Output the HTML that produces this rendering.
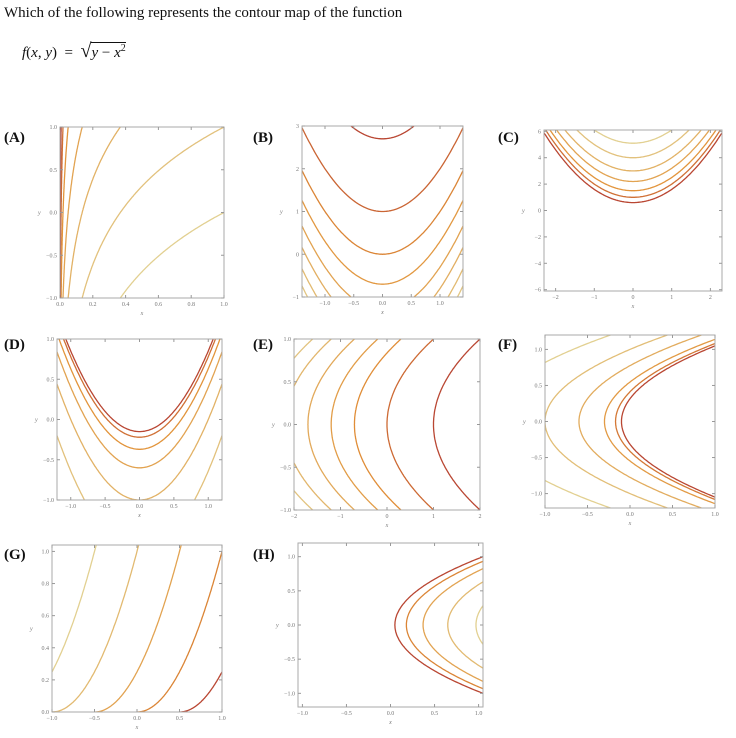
<!DOCTYPE html>
<html><head><meta charset="utf-8">
<style>
body{margin:0;background:#fff;width:736px;height:738px;overflow:hidden;font-family:"Liberation Serif",serif;}
#title{position:absolute;left:4px;top:5px;font-size:15px;color:#111;}
#formula{position:absolute;left:22px;top:40px;font-size:15px;color:#111;}
</style></head><body>
<div id="title">Which of the following represents the contour map of the function</div>
<div id="formula"><i>f</i>(<i>x</i>, <i>y</i>) &nbsp;= &nbsp;<span style="font-size:20px">√</span><span style="border-top:1px solid #111;padding-top:2px"><i>y</i> − <i>x</i><sup style="font-size:10px">2</sup></span></div>
<svg id="chart" width="736" height="738" style="position:absolute;left:0;top:0"></svg>
<script>
const levelsA=[0,1,2,3,4,5,6];
const levelsB=[2.7,1,0,-0.7,-1.3,-1.8,-2.3,-2.7,-3.1];
const levelsC=[0.6,1.0,1.5,2.2,3.0,4.0,5.1];
const levelsD=[-0.15,-0.22,-0.37,-0.6,-1.0,-1.64,-2.6];
const levelsE=[1.0,0.0,-0.7,-1.2,-1.7,-2.2,-2.6,-3.0];
const levelsF=[-0.1,-0.17,-0.3,-0.6,-1.0,-1.67];
const levelsG=[0.5,0,-0.5,-1,-1.5];
const levelsH=[0.05,0.18,0.37,0.65,0.97];
const ticksA=[[0,0.2,0.4,0.6,0.8,1.0],[-1,-0.5,0,0.5,1]];
const ticksB=[[-1,-0.5,0,0.5,1],[-1,0,1,2,3]];
const ticksC=[[-2,-1,0,1,2],[-6,-4,-2,0,2,4,6]];
const ticksD=[[-1,-0.5,0,0.5,1],[-1,-0.5,0,0.5,1]];
const ticksE=[[-2,-1,0,1,2],[-1,-0.5,0,0.5,1]];
const ticksF=[[-1,-0.5,0,0.5,1],[-1,-0.5,0,0.5,1]];
const ticksG=[[-1,-0.5,0,0.5,1],[0,0.2,0.4,0.6,0.8,1.0]];
const ticksH=[[-1,-0.5,0,0.5,1],[-1,-0.5,0,0.5,1]];

const panels=[
{id:'A',lx:4,ly:130,box:[60,127,224,298],xr:[0,1],yr:[-1,1],t:'A',lv:levelsA,tk:ticksA,dec:[1,1],flip:true},
{id:'B',lx:253,ly:130,box:[302,126,463,297],xr:[-1.4,1.4],yr:[-1,3],t:'yx',lv:levelsB,tk:ticksB,dec:[1,0]},
{id:'C',lx:498,ly:130,box:[544,130,722,291],xr:[-2.3,2.3],yr:[-6.1,6.1],t:'yx',lv:levelsC,tk:ticksC,dec:[0,0]},
{id:'D',lx:4,ly:337,box:[57,339,222,500],xr:[-1.2,1.2],yr:[-1,1],t:'yx',lv:levelsD,tk:ticksD,dec:[1,1]},
{id:'E',lx:253,ly:337,box:[294,339,480,510],xr:[-2,2],yr:[-1,1],t:'xy',lv:levelsE,tk:ticksE,dec:[0,1]},
{id:'F',lx:498,ly:337,box:[545,335,715,508],xr:[-1,1],yr:[-1.2,1.2],t:'xy',lv:levelsF,tk:ticksF,dec:[1,1]},
{id:'G',lx:4,ly:547,box:[52,545,222,712],xr:[-1,1],yr:[0,1.04],t:'G',lv:levelsG,tk:ticksG,dec:[1,1]},
{id:'H',lx:253,ly:547,box:[298,543,483,707],xr:[-1.05,1.05],yr:[-1.2,1.2],t:'xy',lv:levelsH,tk:ticksH,dec:[1,1]}
];
const NS='http://www.w3.org/2000/svg';
const svg=document.getElementById('chart');
function mk(tag,at,parent){const e=document.createElementNS(NS,tag);for(const k in at)e.setAttribute(k,at[k]);(parent||svg).appendChild(e);return e;}
function lerp(a,b,t){return a.map((v,i)=>Math.round(v+(b[i]-v)*t));}
function col(t){const L=[226,208,145],O=[226,145,55],D=[185,70,50];const c=t<0.7?lerp(L,O,t/0.7):lerp(O,D,(t-0.7)/0.3);return `rgb(${c})`;}
function fmt(v,d){let s=v.toFixed(d);return s.replace('-','−');}
panels.forEach((p,pi)=>{
  const [x0,y0,x1,y1]=p.box;
  const sx=v=>x0+(v-p.xr[0])/(p.xr[1]-p.xr[0])*(x1-x0);
  const sy=v=>y1-(v-p.yr[0])/(p.yr[1]-p.yr[0])*(y1-y0);
  const g=mk('g',{});
  
  
  const lab=mk('text',{x:p.lx,y:p.ly+12,'font-size':15,'font-weight':'bold','font-family':'Liberation Serif,serif',fill:'#111'},g);
  lab.textContent='('+p.id+')';
  
  
  const cp=mk('clipPath',{id:'cp'+pi},g);
  mk('rect',{x:x0,y:y0,width:x1-x0,height:y1-y0},cp);
  const cg=mk('g',{'clip-path':`url(#cp${pi})`},g);
  const n=p.lv.length;
  p.lv.forEach((c,i)=>{
    let t=p.flip? i/(n-1) : 1-i/(n-1);
    let pts=[];
    for(let k=0;k<=200;k++){
      let x,y;
      if(p.t==='yx'){x=p.xr[0]+(p.xr[1]-p.xr[0])*k/200;y=c+x*x;}
      else if(p.t==='xy'){y=p.yr[0]+(p.yr[1]-p.yr[0])*k/200;x=c+y*y;}
      else if(p.t==='A'){y=p.yr[0]+(p.yr[1]-p.yr[0])*k/200;x=Math.exp(y-c);}
      else {x=c+(p.xr[1]-c)*k/200;y=(x-c)*(x-c);}
      pts.push(sx(x).toFixed(1)+','+sy(y).toFixed(1));
    }
    const pl=mk('polyline',{points:pts.join(' '),fill:'none',stroke:col(t),'stroke-width':1.3},cg);
    
    
  });
  const fr=mk('rect',{x:x0,y:y0,width:x1-x0,height:y1-y0,fill:'none',stroke:'#aaa','stroke-width':1},g);
  
  
  p.tk[0].forEach(v=>{
    const X=sx(v);
    mk('line',{x1:X,y1:y1,x2:X,y2:y1-3,stroke:'#999'},g);
    mk('line',{x1:X,y1:y0,x2:X,y2:y0+3,stroke:'#999'},g);
    const tx=mk('text',{x:X,y:y1+8,'font-size':6,'text-anchor':'middle',fill:'#777'},g);
    tx.textContent=fmt(v,p.dec[0]);
  });
  p.tk[1].forEach(v=>{
    const Y=sy(v);
    mk('line',{x1:x0,y1:Y,x2:x0+3,y2:Y,stroke:'#999'},g);
    mk('line',{x1:x1,y1:Y,x2:x1-3,y2:Y,stroke:'#999'},g);
    const tx=mk('text',{x:x0-3,y:Y+2,'font-size':6,'text-anchor':'end',fill:'#777'},g);
    tx.textContent=fmt(v,p.dec[1]);
  });
  const xl=mk('text',{x:(x0+x1)/2,y:y1+17,'font-size':6,'font-style':'italic','text-anchor':'middle',fill:'#777'},g);
  xl.textContent='x';
  const yl=mk('text',{x:x0-22,y:(y0+y1)/2+2,'font-size':6,'font-style':'italic',fill:'#777'},g);
  yl.textContent='y';
});
</script>
</body></html>
